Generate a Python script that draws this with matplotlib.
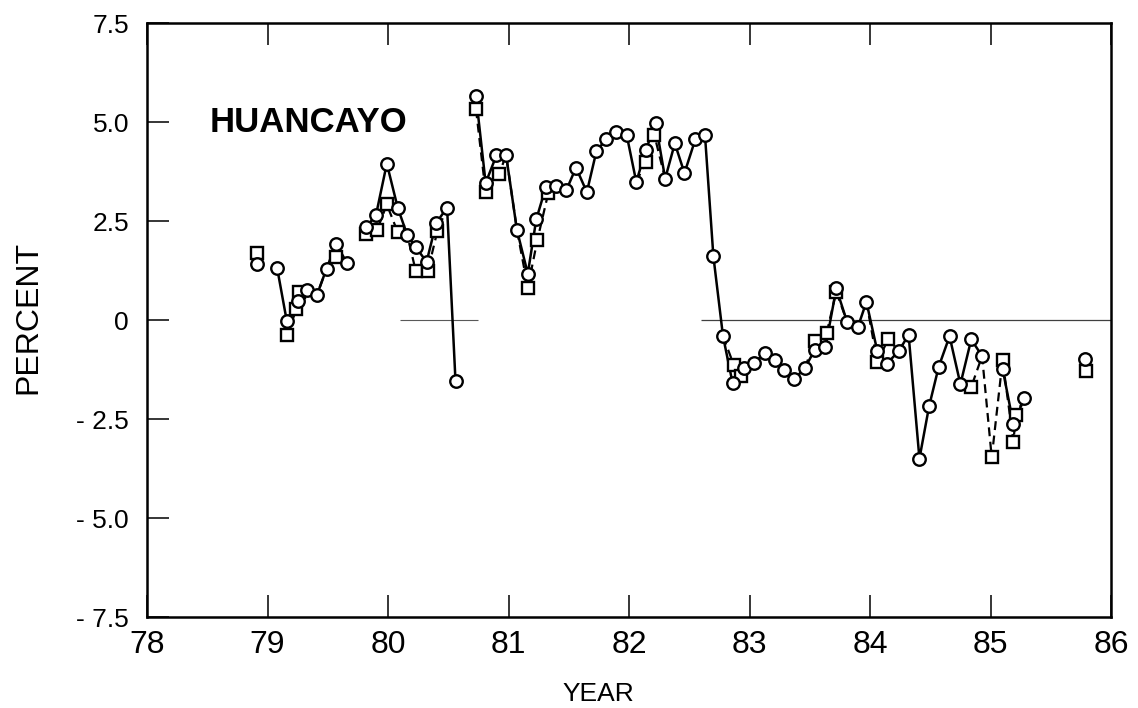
import matplotlib
matplotlib.use("Agg")
import matplotlib.pyplot as plt
from matplotlib import font_manager
import numpy as np

nan = np.nan

# station monthly departures (percent)
# solid line / circles -- nan breaks the line
circ_x = [78.91, nan,
          79.08, 79.16, 79.25, 79.33, 79.41, 79.49, 79.57, 79.66, nan,
          79.82, 79.90, 79.99, 80.08, 80.16, 80.23, 80.32, 80.40, 80.49, 80.56, nan,
          80.73, 80.81, 80.90, 80.98,
          81.07, 81.16, 81.23, 81.31, 81.39, 81.48, 81.56, 81.65, 81.73, 81.81, 81.89, 81.98,
          82.06, 82.14, 82.22, 82.30, 82.38, 82.46, 82.55, 82.63, 82.70, 82.78, 82.86, 82.95,
          83.04, 83.13, 83.21, 83.29, 83.37, 83.46, 83.54, 83.63, 83.72, 83.81, 83.90, 83.97,
          84.06, 84.14, 84.24, 84.32, 84.41, 84.49, 84.57, 84.66, 84.75, 84.84, 84.93, nan,
          85.10, 85.19, 85.28, nan,
          85.78]
circ_y = [1.41, nan,
          1.31, -0.03, 0.48, 0.75, 0.63, 1.30, 1.93, 1.43, nan,
          2.35, 2.65, 3.95, 2.84, 2.14, 1.84, 1.47, 2.45, 2.84, -1.55, nan,
          5.65, 3.46, 4.16, 4.16,
          2.27, 1.17, 2.54, 3.36, 3.38, 3.28, 3.85, 3.23, 4.27, 4.56, 4.75, 4.68,
          3.49, 4.29, 4.98, 3.57, 4.46, 3.71, 4.56, 4.68, 1.61, -0.41, -1.60, -1.20,
          -1.08, -0.83, -1.00, -1.27, -1.50, -1.21, -0.76, -0.69, 0.80, -0.05, -0.17, 0.46,
          -0.78, -1.10, -0.78, -0.37, -3.50, -2.18, -1.18, -0.41, -1.62, -0.49, -0.91, nan,
          -1.23, -2.63, -1.98, nan,
          -0.99]

# dashed line / squares
sq_x = [78.91, nan,
        79.16, 79.24, 79.26, 79.33, 79.41, 79.49, 79.57, 79.66, nan,
        79.82, 79.91, 79.99, 80.08, 80.16, 80.23, 80.33, 80.41, 80.49, nan,
        80.73, 80.81, 80.92, 80.98, 81.07, 81.16, 81.24, 81.33, 81.39, nan,
        82.06, 82.14, 82.21, 82.30, nan,
        82.78, 82.87, 82.93, 83.04, nan,
        83.46, 83.54, 83.64, 83.72, 83.81, nan,
        83.97, 84.06, 84.15, 84.24, 84.32, nan,
        84.75, 84.84, 84.93, 85.01, 85.10, 85.19, 85.21, 85.28, nan,
        85.79]
sq_y = [1.70, nan,
        -0.38, 0.27, 0.70, 0.75, 0.63, 1.30, 1.58, 1.43, nan,
        2.17, 2.28, 2.92, 2.22, 2.14, 1.24, 1.24, 2.25, 2.84, nan,
        5.32, 3.23, 3.68, 4.16, 2.27, 0.82, 2.03, 3.21, 3.38, nan,
        3.49, 3.99, 4.67, 3.57, nan,
        -0.41, -1.14, -1.42, -1.08, nan,
        -1.21, -0.53, -0.33, 0.72, -0.05, nan,
        0.46, -1.06, -0.49, -0.78, -0.37, nan,
        -1.62, -1.69, -0.91, -3.47, -1.02, -3.07, -2.40, -1.98, nan,
        -1.29]

year_ticks = [78, 79, 80, 81, 82, 83, 84, 85, 86]
pct_ticks = [-7.5, -5.0, -2.5, 0, 2.5, 5.0, 7.5]
pct_labels = ["- 7.5", "- 5.0", "- 2.5", "0", "2.5", "5.0", "7.5"]

plt.rcParams["font.family"] = ["Liberation Sans", "DejaVu Sans"]

# the year labels on the original are in a narrow face
names = {f.name for f in font_manager.fontManager.ttflist}
if "Liberation Sans Narrow" in names:
    xfont, xsize = "Liberation Sans Narrow", 27
else:
    xfont, xsize = "Liberation Sans", 23

fig = plt.figure(figsize=(11.38, 7.08), dpi=100)
ax = fig.add_axes([0.1292, 0.1285, 0.8471, 0.839])

# thin zero reference line (drawn only in parts on the original)
ax.hlines(0, 80.1, 80.75, color="0.35", lw=0.8, zorder=1)
ax.hlines(0, 82.6, 86, color="0.25", lw=0.9, zorder=1)

cx = np.array(circ_x)
cy = np.array(circ_y)
sx = np.array(sq_x)
sy = np.array(sq_y)

# only show a square where it is not hidden behind a circle
ok = ~np.isnan(cx)
show = np.ones(len(sx), dtype=bool)
for i in range(len(sx)):
    if np.isnan(sx[i]):
        show[i] = False
        continue
    d = (np.abs(cx[ok] - sx[i]) < 0.02) & (np.abs(cy[ok] - sy[i]) < 0.05)
    if d.any():
        show[i] = False

ax.plot(sx, sy, color="k", lw=1.6, ls=(0, (4, 2.5)), zorder=2)
ax.plot(cx, cy, color="k", lw=1.8, zorder=3)
ax.plot(sx[show], sy[show], "s", ms=8, mfc="white", mec="k", mew=1.7,
        ls="none", zorder=4)
ax.plot(cx, cy, "o", ms=9, mfc="white", mec="k", mew=1.7, ls="none",
        zorder=5)

ax.text(78.52, 5.0, "HUANCAYO", fontsize=25, fontweight="bold",
        va="center", ha="left")

ax.set_xlim(78, 86)
ax.set_ylim(-7.5, 7.5)
ax.set_xticks(year_ticks)
ax.set_yticks(pct_ticks)
ax.set_yticklabels(pct_labels)
ax.tick_params(axis="both", direction="in", length=16, width=1.1,
               top=True, right=False)
ax.tick_params(axis="y", labelsize=19, pad=13)
ax.tick_params(axis="x", labelsize=xsize, pad=9, labelfontfamily=xfont)
for s in ax.spines.values():
    s.set_linewidth(1.8)

fig.text(0.025, 0.551, "PERCENT", rotation=90, fontsize=23,
         ha="center", va="center")
fig.text(0.5255, 0.02, "YEAR", fontsize=19, ha="center", va="center")

fig.savefig("out.png", dpi=100)
